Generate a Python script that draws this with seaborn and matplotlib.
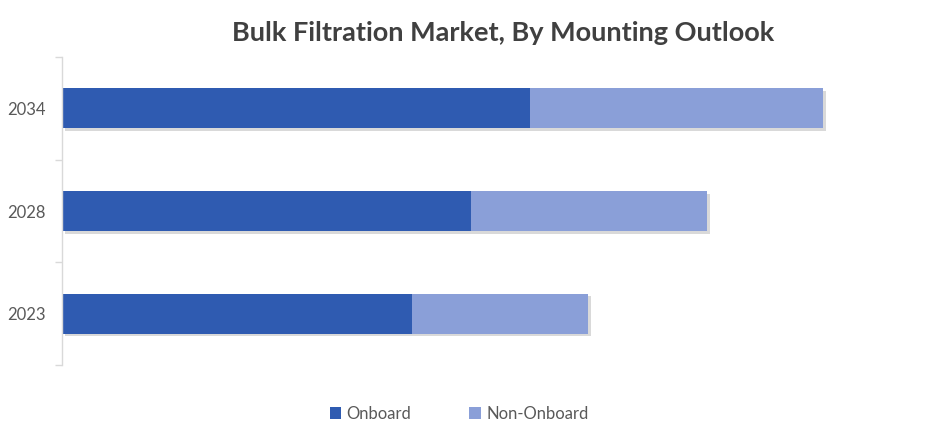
import matplotlib
matplotlib.use("Agg")
import matplotlib.pyplot as plt
import seaborn as sns
import pandas as pd
from matplotlib.patches import Patch
import matplotlib.patheffects as pe

years = ["2034", "2028", "2023"]
onboard = [4.68, 4.09, 3.50]
non_onboard = [2.93, 2.36, 1.76]
series_names = ["Onboard", "Non-Onboard"]
title = "Bulk Filtration Market, By Mounting Outlook"

dark = "#2F5BB1"
light = "#8A9FD8"

df = pd.DataFrame({"Year": years, "Onboard": onboard, "NonOnboard": non_onboard})
df["Total"] = df["Onboard"] + df["NonOnboard"]

sns.set_theme(style="white")
plt.rcParams["font.family"] = ["Lato", "DejaVu Sans"]

fig = plt.figure(figsize=(9.4, 4.44), dpi=100)
ax = fig.add_axes([62/940, 1-365/444, 840/940, 308/444])

shadow = [pe.SimplePatchShadow(offset=(2, -2), shadow_rgbFace="#000000", alpha=0.15), pe.Normal()]

sns.barplot(data=df, x="Total", y="Year", order=years, color=light, width=0.39,
            saturation=1, ax=ax, orient="h")
sns.barplot(data=df, x="Onboard", y="Year", order=years, color=dark, width=0.39,
            saturation=1, ax=ax, orient="h")
for p in ax.patches:
    p.set_linewidth(0)
for p in ax.patches[:3]:
    p.set_path_effects(shadow)

ax.set_xlim(0, 8.4)
ax.set_ylim(2.5, -0.5)
ax.set_xlabel("")
ax.set_ylabel("")
ax.set_xticks([])
for s in ["top", "right", "bottom"]:
    ax.spines[s].set_visible(False)
ax.spines["left"].set_color("#D9D9D9")
ax.spines["left"].set_linewidth(1)

ax.set_yticks([0, 1, 2])
ax.set_yticklabels(years, fontsize=12, color="#595959")
ax.tick_params(axis="y", which="major", left=False, length=0, pad=12)
ax.set_yticks([-0.5, 0.5, 1.5, 2.5], minor=True)
ax.tick_params(axis="y", which="minor", left=True, length=5, width=1, color="#D9D9D9",
               direction="out")

fig.text(503/940, 1-33/444, title, ha="center", va="center", fontsize=19.5,
         fontweight="bold", color="#404040")

handles = [Patch(facecolor=dark, edgecolor="none"), Patch(facecolor=light, edgecolor="none")]
fig.legend(handles, series_names, loc="center", bbox_to_anchor=(459/940, 1-414/444), ncol=2,
           frameon=False, fontsize=12, handlelength=0.7, handleheight=0.7, handletextpad=0.3,
           columnspacing=3.5, labelcolor="#595959")

fig.savefig("out.png", dpi=100)
